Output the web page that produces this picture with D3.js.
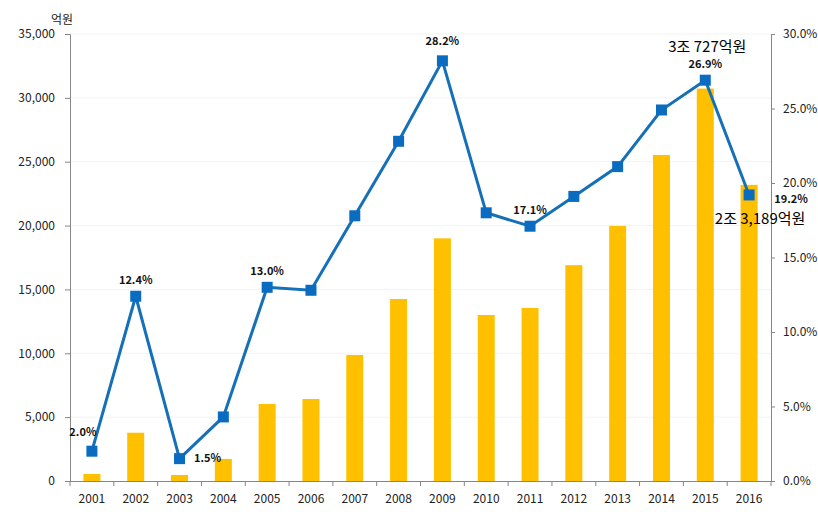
<!DOCTYPE html>
<html><head><meta charset="utf-8">
<script src="https://cdn.jsdelivr.net/npm/d3@7"></script>
<style>body{margin:0;background:#fff;}svg{display:block;}</style>
</head><body>
<svg id="c" width="818" height="515"></svg>
<script>
const years = ["2001","2002","2003","2004","2005","2006","2007","2008","2009","2010","2011","2012","2013","2014","2015","2016"];
const amounts = [550, 3780, 470, 1730, 6030, 6420, 9870, 14250, 19000, 13000, 13550, 16900, 19970, 25530, 30727, 23189];
const rates = [2.0, 12.4, 1.5, 4.3, 13.0, 12.8, 17.8, 22.8, 28.2, 18.0, 17.1, 19.1, 21.1, 24.9, 26.9, 19.2];
const rateLabels = ["2.0%", "12.4%", "1.5%", null, "13.0%", null, null, null, "28.2%", null, "17.1%", null, null, null, "26.9%", "19.2%"];
const leftTicks = [0, 5000, 10000, 15000, 20000, 25000, 30000, 35000];
const rightTicks = [0, 5, 10, 15, 20, 25, 30];
const unitLabel = "억원";
const notes = [{year: "2015", text: "3조 727억원"}, {year: "2016", text: "2조 3,189억원"}];

const svg = d3.select("#c");
const L = 70, R = 771, T = 34, B = 481;
const font = "'Noto Sans CJK KR', 'Noto Sans', sans-serif";
const x = d3.scaleBand().domain(years).range([L, R]);
const yL = d3.scaleLinear().domain([0, 35000]).range([B, T]);
const yR = d3.scaleLinear().domain([0, 30]).range([B, T]);

// grid
svg.append("g").selectAll("line").data(leftTicks.slice(1)).join("line")
  .attr("x1", L).attr("x2", R).attr("y1", d => yL(d)).attr("y2", d => yL(d))
  .attr("stroke", "#f3f3f3").attr("stroke-width", 1);

// bars
const bw = 17;
svg.append("g").selectAll("rect").data(amounts).join("rect")
  .attr("x", (d, i) => x(years[i]) + x.bandwidth() / 2 - bw / 2)
  .attr("width", bw)
  .attr("y", d => yL(d))
  .attr("height", d => B - yL(d))
  .attr("fill", "#FFC000");

// axes
const axisColor = "#868686";
const gl = svg.append("g").attr("transform", `translate(${L},0)`)
  .call(d3.axisLeft(yL).tickValues(leftTicks).tickSize(5).tickPadding(10).tickFormat(d3.format(",")));
const gr = svg.append("g").attr("transform", `translate(${R},0)`)
  .call(d3.axisRight(yR).tickValues(rightTicks).tickSize(4).tickPadding(8).tickFormat(d => d3.format(".1f")(d) + "%"));
const gx = svg.append("g").attr("transform", `translate(0,${B})`)
  .call(d3.axisBottom(x).tickSize(0).tickPadding(13));
[gl, gr, gx].forEach(g => {
  g.select(".domain").attr("stroke", axisColor);
  g.selectAll(".tick line").attr("stroke", axisColor);
  g.selectAll("text").attr("font-family", font).attr("font-size", 12).attr("fill", "#222");
});
// x ticks at band boundaries
svg.append("g").selectAll("line").data(years.concat(["end"])).join("line")
  .attr("x1", (d, i) => L + i * x.bandwidth()).attr("x2", (d, i) => L + i * x.bandwidth())
  .attr("y1", B).attr("y2", B + 5).attr("stroke", axisColor);

svg.append("text").attr("x", 62).attr("y", 24).attr("text-anchor", "middle")
  .attr("font-family", font).attr("font-size", 12).attr("fill", "#222").text(unitLabel);

// line
const cx = i => x(years[i]) + x.bandwidth() / 2;
const line = d3.line().x((d, i) => cx(i)).y(d => yR(d));
svg.append("path").datum(rates).attr("d", line)
  .attr("fill", "none").attr("stroke", "#1570b8").attr("stroke-width", 3);
const ms = 11;
svg.append("g").selectAll("rect").data(rates).join("rect")
  .attr("x", (d, i) => cx(i) - ms / 2).attr("y", d => yR(d) - ms / 2)
  .attr("width", ms).attr("height", ms).attr("fill", "#0a6cc0");

// rate labels
const labelData = rates.map((v, i) => ({v, i, year: years[i], label: rateLabels[i]})).filter(d => d.label !== null);
svg.append("g").selectAll("text").data(labelData).join("text")
  .attr("x", d => {
    if (d.year === "2001") return cx(d.i) - 9;
    if (d.year === "2003") return cx(d.i) + 28;
    if (d.year === "2016") return cx(d.i) + 42;
    return cx(d.i);
  })
  .attr("y", d => {
    if (d.year === "2001") return yR(d.v) - 15;
    if (d.year === "2003") return yR(d.v) + 3;
    if (d.year === "2016") return yR(d.v) + 8;
    if (d.year === "2009") return yR(d.v) - 16;
    return yR(d.v) - 12;
  })
  .attr("text-anchor", "middle")
  .attr("font-family", font).attr("font-size", 11).attr("font-weight", "bold").attr("fill", "#111")
  .text(d => d.label);

// notes
svg.append("g").selectAll("text").data(notes).join("text")
  .attr("x", d => {
    const i = years.indexOf(d.year);
    return d.year === "2015" ? cx(i) + 2 : cx(i) + 11;
  })
  .attr("y", d => d.year === "2015" ? 52 : 224)
  .attr("text-anchor", "middle")
  .attr("font-family", font).attr("font-size", 15).attr("fill", "#000")
  .text(d => d.text);
</script>
</body></html>
